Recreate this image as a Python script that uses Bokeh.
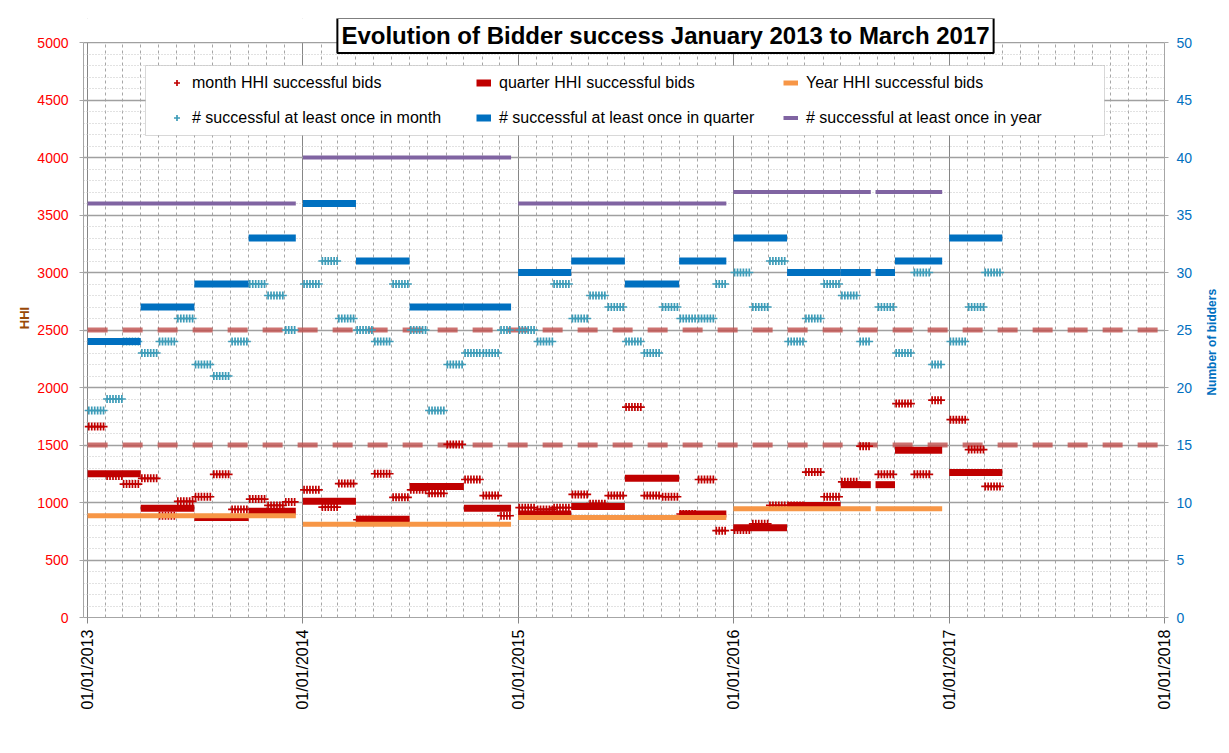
import math
import pandas as pd
from bokeh.plotting import figure
from bokeh.models import (Range1d, LinearAxis, FixedTicker, DatetimeTickFormatter, Label,
                          Legend, LegendItem, BoxAnnotation)
from bokeh.embed import file_html
from bokeh.resources import INLINE

# ---------------- data ----------------
month_start = pd.date_range("2013-01-01", "2017-03-01", freq="MS")
month_hhi = [1660, 1230, 1160, 1210, 885, 1010, 1050, 1245, 940, 1030, 975, 1005,
             1110, 960, 1165, 850, 1250, 1045, 1110, 1080, 1505, 1200, 1060, 885,
             955, 940, 955, 1070, 990, 1060, 1830, 1060, 1050, 900, 1200, 755,
             760, 815, 975, 975, 1265, 1050, 1180, 1490, 1245, 1860, 1245, 1890,
             1720, 1460, 1140]
month_bidders = [18, 19, 24, 23, 24, 26, 22, 21, 24, 29, 28, 25,
                 29, 31, 26, 25, 24, 29, 25, 18, 22, 23, 23, 25,
                 25, 24, 29, 26, 28, 27, 24, 23, 27, 26, 26, 29,
                 30, 27, 31, 24, 26, 29, 28, 24, 27, 23, 30, 22,
                 24, 27, 30]
quarter_start = pd.date_range("2013-01-01", "2017-01-01", freq="QS")
quarter_hhi = [1250, 950, 870, 925, 1010, 855, 1140, 950, 900, 965, 1210, 900,
               780, 975, 1155, 1455, 1260]
quarter_bidders = [24, 27, 29, 33, 36, 31, 27, 27, 30, 31, 29, 31, 33, 30, 30, 31, 33]
years = [2013, 2014, 2015, 2016]
year_hhi = [885, 810, 870, 945]
year_bidders = [36, 40, 36, 37]
thresholds = [1500, 2500]
last_auction_day = (12, 20)                     # last auction date of each year
data_gap = (pd.Timestamp("2016-08-21"), pd.Timestamp("2016-08-29"))
axis_years = [2013, 2014, 2015, 2016, 2017, 2018]
hhi_max, bidders_max = 5000, 50
hhi_ticks = list(range(0, hhi_max + 1, 500))
hhi_minor = list(range(0, hhi_max + 1, 100))
bidder_ticks = list(range(0, bidders_max + 1, 5))

TITLE = "Evolution of Bidder success January 2013 to March 2017"
RIGHT_TITLE = "Number of bidders"
FONT = "Liberation Sans"


def year_end(ts):
    return pd.Timestamp(ts.year, *last_auction_day)


def in_gap(ts):
    return data_gap[0] <= ts < data_gap[1]


def split_gap(s, e):
    if s < data_gap[0] < e:
        return [(s, data_gap[0]), (data_gap[1], e)]
    return [(s, e)]


# auction dates inside each month -> marker positions
offsets = [3, 8, 13, 18, 23, 28]
mx, m_hhi, m_n = [], [], []
for ms, h, n in zip(month_start, month_hhi, month_bidders):
    for d in offsets:
        t = ms + pd.Timedelta(days=d - 1)
        if t.month != ms.month or in_gap(t) or t > year_end(ms):
            continue
        mx.append(t); m_hhi.append(h); m_n.append(n)

# quarter segments
qx0, qx1, qh, qn = [], [], [], []
for qs, h, n in zip(quarter_start, quarter_hhi, quarter_bidders):
    qe = qs + pd.DateOffset(months=3)
    if qs.month == 10:
        qe = min(qe, year_end(qs))
    for s, e in split_gap(qs, qe):
        qx0.append(s); qx1.append(e); qh.append(h); qn.append(n)

# year segments
yx0, yx1, yh, yn = [], [], [], []
for y, h, n in zip(years, year_hhi, year_bidders):
    ys = pd.Timestamp(y, 1, 1)
    for s, e in split_gap(ys, year_end(ys)):
        yx0.append(s); yx1.append(e); yh.append(h); yn.append(n)

# ---------------- layout (pixels) ----------------
W, H = 1229, 753
F_LEFT, F_RIGHT, F_TOP, F_BOTTOM = 83, 1166, 18, 617   # frame incl. title strip
AXIS_TOP = 42                                          # where hhi_max sits
scale = (F_BOTTOM - F_TOP) / (F_BOTTOM - AXIS_TOP)

x_start = pd.Timestamp("2012-12-25")
x_end = pd.Timestamp("2018-01-01")

p = figure(width=W, height=H, x_axis_type="datetime",
           x_range=Range1d(x_start, x_end), y_range=Range1d(0, hhi_max * scale),
           output_backend="svg", toolbar_location=None,
           min_border_left=F_LEFT, min_border_right=W - F_RIGHT,
           min_border_top=F_TOP, min_border_bottom=H - F_BOTTOM)
p.extra_y_ranges = {"bidders": Range1d(0, bidders_max * scale)}
p.outline_line_color = None
p.background_fill_color = "white"
p.border_fill_color = "white"

to_ms = lambda t: pd.Timestamp(t).value // 10**6
xt = FixedTicker(ticks=[to_ms(pd.Timestamp(y, 1, 1)) for y in axis_years],
                 minor_ticks=[to_ms(t) for t in pd.date_range("2013-01-01", "2018-01-01", freq="MS")])
yt = FixedTicker(ticks=hhi_ticks, minor_ticks=hhi_minor)

xa = p.xaxis[0]
xa.ticker = xt
fmt = "%d/%m/%Y"
xa.formatter = DatetimeTickFormatter(years=fmt, months=fmt, days=fmt, hours=fmt, minutes=fmt,
                                     seconds=fmt, milliseconds=fmt, microseconds=fmt,
                                     strip_leading_zeros=False)
xa.major_label_orientation = math.pi / 2
xa.major_label_text_font = FONT
xa.major_label_text_font_size = "16px"
xa.major_label_text_color = "#000000"
xa.major_label_standoff = 6
xa.axis_line_color = "#A6A6A6"
xa.major_tick_line_color = "#868686"
xa.major_tick_out = 6
xa.major_tick_in = 0
xa.minor_tick_line_color = None

ya = p.yaxis[0]
ya.ticker = yt
ya.bounds = (0, hhi_max)
ya.major_label_text_color = "#FF0000"
ya.major_label_text_font = FONT
ya.major_label_text_font_size = "14px"
ya.major_label_standoff = 11
ya.axis_line_color = "#A6A6A6"
ya.major_tick_line_color = "#A6A6A6"
ya.major_tick_out = 4
ya.major_tick_in = 0
ya.minor_tick_line_color = None
ya.axis_label = "HHI"
ya.axis_label_text_font = FONT
ya.axis_label_text_font_size = "13px"
ya.axis_label_text_font_style = "bold"
ya.axis_label_text_color = "#984807"
ya.axis_label_standoff = 2

ra = LinearAxis(y_range_name="bidders", ticker=FixedTicker(ticks=bidder_ticks), bounds=(0, bidders_max))
ra.major_label_text_color = "#0070C0"
ra.major_label_text_font = FONT
ra.major_label_text_font_size = "14px"
ra.major_label_standoff = 8
ra.axis_line_color = "#A6A6A6"
ra.major_tick_line_color = "#A6A6A6"
ra.major_tick_out = 4
ra.major_tick_in = 0
ra.minor_tick_line_color = None
p.add_layout(ra, "right")

# right-hand axis title, written as the single label of a bare axis so it reads upwards
title_pos = 19.3
rt = LinearAxis(y_range_name="bidders", ticker=FixedTicker(ticks=[title_pos], minor_ticks=[]),
                major_label_overrides={title_pos: RIGHT_TITLE})
rt.axis_line_color = None
rt.major_tick_line_color = None
rt.minor_tick_line_color = None
rt.major_tick_out = 0
rt.major_tick_in = 0
rt.major_label_standoff = 17
rt.major_label_orientation = math.pi / 2
rt.major_label_text_font = FONT
rt.major_label_text_font_size = "12px"
rt.major_label_text_font_style = "bold"
rt.major_label_text_color = "#0070C0"
p.add_layout(rt, "right")

p.xgrid.ticker = xt
p.xgrid.grid_line_color = "#868686"
p.xgrid.grid_line_width = 1
p.xgrid.minor_grid_line_color = "#A6A6A6"
p.xgrid.minor_grid_line_dash = "3 3"
p.ygrid.ticker = yt
p.ygrid.grid_line_color = "#A0A0A0"
p.ygrid.grid_line_width = 1.5
p.ygrid.minor_grid_line_color = "#C4C4C4"
p.ygrid.minor_grid_line_dash = "1 2"

# ---------------- glyphs ----------------
p.segment(x0=[pd.Timestamp("2013-01-01")] * len(thresholds), x1=[x_end] * len(thresholds),
          y0=thresholds, y1=thresholds, line_color="#C0504D", line_alpha=0.8,
          line_width=5, line_dash="20 15", line_cap="butt")

r_mh = p.scatter(mx, m_hhi, marker="cross", size=8, line_color="#C00000", line_width=1.7)
r_qh = p.segment(x0=qx0, x1=qx1, y0=qh, y1=qh, line_color="#C00000", line_width=7, line_cap="butt")
r_yh = p.segment(x0=yx0, x1=yx1, y0=yh, y1=yh, line_color="#F79646", line_width=5, line_cap="butt")
r_mn = p.scatter(mx, m_n, marker="cross", size=8, line_color="#3E9CB8", line_width=1.7,
                 y_range_name="bidders")
r_qn = p.segment(x0=qx0, x1=qx1, y0=qn, y1=qn, line_color="#0070C0", line_width=7,
                 line_cap="butt", y_range_name="bidders")
r_yn = p.segment(x0=yx0, x1=yx1, y0=yn, y1=yn, line_color="#8064A2", line_width=4,
                 line_cap="butt", y_range_name="bidders")

# white strip above the top of the value axis (title area)
p.add_layout(BoxAnnotation(left=-50, right=5000, left_units="screen", right_units="screen",
                           bottom=hhi_max + 4, top=hhi_max * 2,
                           fill_color="white", fill_alpha=1.0, line_alpha=0))

# ---------------- legend ----------------
p.add_layout(BoxAnnotation(left=62, right=1021, top=552, bottom=482,
                           left_units="screen", right_units="screen",
                           top_units="screen", bottom_units="screen",
                           fill_color="white", fill_alpha=1.0, line_color="#7F7F7F", line_width=1))

legend = Legend(items=[
    LegendItem(label="month HHI successful bids", renderers=[r_mh]),
    LegendItem(label="quarter HHI successful bids", renderers=[r_qh]),
    LegendItem(label="Year HHI successful bids", renderers=[r_yh]),
    LegendItem(label="# successful at least once in month", renderers=[r_mn]),
    LegendItem(label="# successful at least once in quarter", renderers=[r_qn]),
    LegendItem(label="# successful at least once in year", renderers=[r_yn]),
], orientation="horizontal", ncols=3, location=(86, 487), padding=0, spacing=10,
    glyph_width=15, glyph_height=25, label_height=25, label_width=274, label_standoff=8,
    label_text_font=FONT, label_text_font_size="16px", label_text_color="#000000",
    border_line_alpha=0, background_fill_alpha=0)
p.add_layout(legend)

# ---------------- title ----------------
p.add_layout(Label(x=582, y=582, x_units="screen", y_units="screen", text=TITLE,
                   text_align="center", text_baseline="middle", text_font=FONT,
                   text_font_size="24px", text_font_style="bold", text_color="#000000",
                   background_fill_color="white", border_line_color="#000000",
                   border_line_width=2, padding=4))

open("out.html", "w").write(file_html(p, INLINE))
